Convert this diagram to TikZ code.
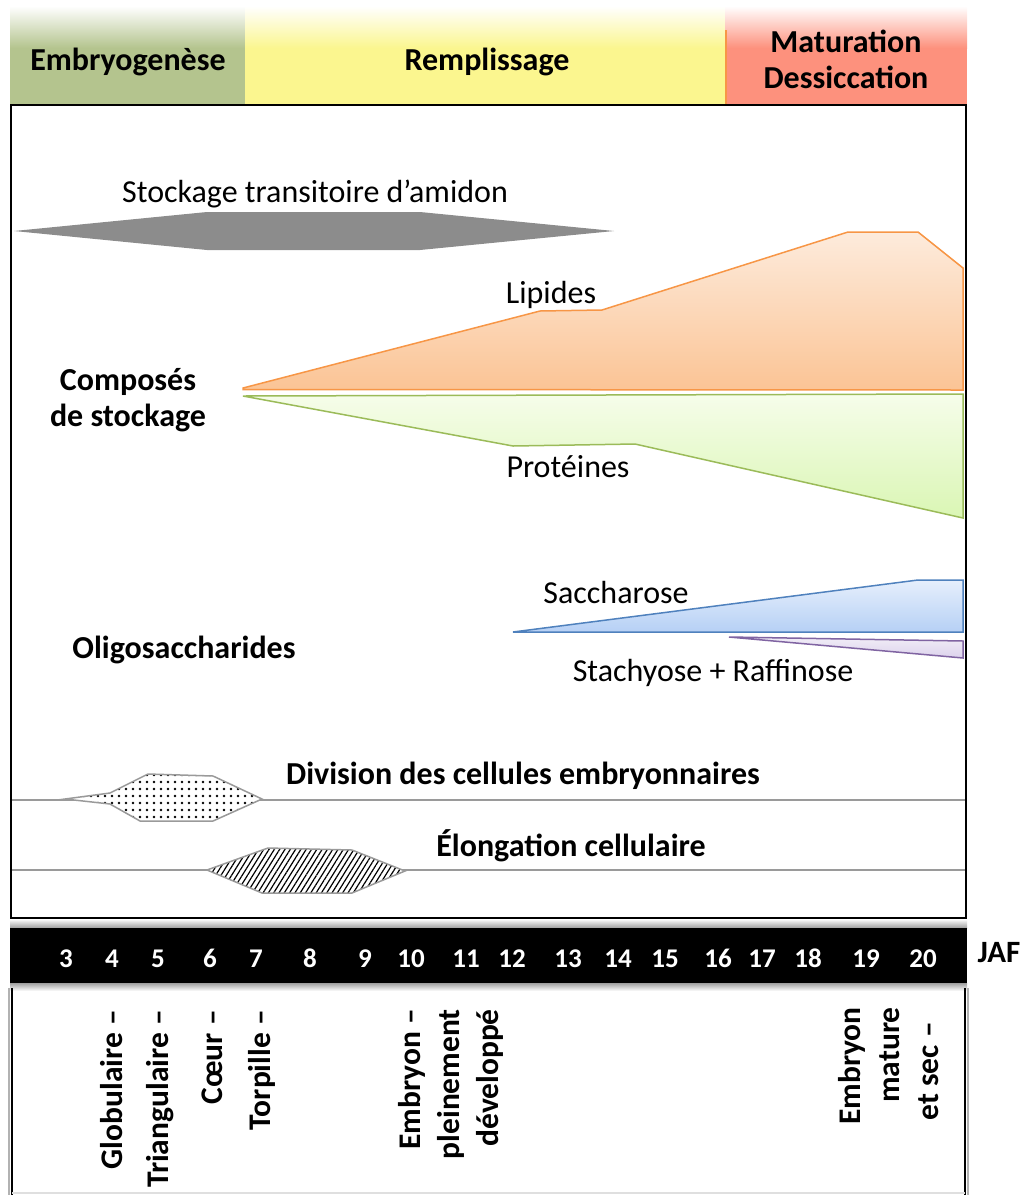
\documentclass[tikz,border=0pt]{standalone}
\usepackage{fontspec}
\setmainfont{Carlito}
\usetikzlibrary{patterns.meta}
\definecolor{hgreen}{HTML}{B4C48E}
\definecolor{hyellow}{HTML}{FBF68F}
\definecolor{hred}{HTML}{FD917D}
\definecolor{horange}{HTML}{F79646}
\definecolor{starch}{HTML}{8C8C8C}
\definecolor{lipstroke}{HTML}{F79646}
\definecolor{liptop}{HTML}{FDEBDC}
\definecolor{lipbot}{HTML}{FBC495}
\definecolor{protstroke}{HTML}{9BBB59}
\definecolor{prottop}{HTML}{F6FDEA}
\definecolor{protbot}{HTML}{DAF6B4}
\definecolor{sacstroke}{HTML}{4F81BD}
\definecolor{sactop}{HTML}{E6EFFC}
\definecolor{sacbot}{HTML}{B6D0F5}
\definecolor{stastroke}{HTML}{8064A2}
\definecolor{statop}{HTML}{F1EDF7}
\definecolor{stabot}{HTML}{DCD2EC}
\definecolor{shapegray}{HTML}{9A9A9A}
\tikzset{
  lbl/.style={font=\fontsize{32}{36}\selectfont, inner sep=0pt, yshift=-3pt},
  blbl/.style={font=\fontsize{32}{36}\selectfont\bfseries, inner sep=0pt, align=center, yshift=-3pt},
  numlbl/.style={font=\fontsize{27}{30}\selectfont\bfseries, text=white, inner sep=0pt, anchor=base},
  vlbl/.style={font=\fontsize{31.5}{39}\selectfont\bfseries, rotate=90, inner sep=0pt, align=right, anchor=east},
  cellline/.style={draw=shapegray, line width=1.5pt},
}
\begin{document}
\begin{tikzpicture}[x=1pt,y=-1pt]
\useasboundingbox (0,0) rectangle (1026,1195);
% header bands
\fill[top color=white, bottom color=hgreen] (10,6) rectangle (245,48);
\fill[hgreen] (10,47.5) rectangle (245,105);
\fill[top color=white, bottom color=hyellow] (245,6) rectangle (725,48);
\fill[hyellow] (245,47.5) rectangle (725,105);
\fill[top color=white, bottom color=hred] (725,6) rectangle (967,48);
\fill[hred] (725,47.5) rectangle (967,105);
\draw[horange, line width=2pt] (726,30) -- (726,105);
\node[blbl] (hdrE) at (128,59) {Embryogenèse};
\node[blbl] (hdrR) at (487,59) {Remplissage};
\node[blbl] (hdrM) at (846,56) {Maturation\\Dessiccation};
% starch
\fill[starch] (14,231) -- (207,212) -- (420,212) -- (614,231) -- (420,250) -- (207,250) -- cycle;
\node[lbl] (starchlbl) at (315,191) {Stockage transitoire d’amidon};
% lipids
\draw[lipstroke, line width=1.5pt, top color=liptop, bottom color=lipbot]
  (243,388) -- (540,311) -- (602,310) -- (848,232) -- (918,232) -- (963,268) -- (963,390) -- (243,389.5) -- cycle;
\node[lbl] (liplbl) at (551,292) {Lipides};
% proteins
\draw[protstroke, line width=1.5pt, top color=prottop, bottom color=protbot]
  (243,396) -- (963,394) -- (963,518) -- (635,444) -- (513,446) -- cycle;
\node[lbl] (protlbl) at (568,464) {Protéines};
\node[blbl] (compose) at (128,397) {Composés\\de stockage};
% oligosaccharides
\draw[sacstroke, line width=1.5pt, top color=sactop, bottom color=sacbot]
  (513,632) -- (918,580) -- (963,580) -- (963,632) -- cycle;
\node[lbl] (saclbl) at (616,589) {Saccharose};
\draw[stastroke, line width=1.5pt, top color=statop, bottom color=stabot]
  (729,637) -- (963,641) -- (963,658) -- cycle;
\node[lbl] (stalbl) at (713,670) {Stachyose + Raffinose};
\node[blbl] (oligo) at (184,647) {Oligosaccharides};
% division
\draw[cellline] (10,800) -- (965,800);
\fill[white] (65,799) -- (110,793) -- (148,774) -- (213,776) -- (262,799) -- (213,821) -- (140,821) -- (110,804) -- cycle;
\draw[cellline, pattern={Dots[distance=7pt, radius=1.4pt]}]
  (65,799) -- (110,793) -- (148,774) -- (213,776) -- (262,799) -- (213,821) -- (140,821) -- (110,804) -- cycle;
\node[blbl] (divlbl) at (523,773) {Division des cellules embryonnaires};
% elongation
\draw[cellline] (10,870) -- (965,870);
\fill[white] (207,870) -- (268,848) -- (352,850) -- (405,871) -- (352,893) -- (262,893) -- cycle;
\draw[cellline, pattern={Lines[angle=58, distance=4.5pt, line width=1.2pt]}]
  (207,870) -- (268,848) -- (352,850) -- (405,871) -- (352,893) -- (262,893) -- cycle;
\node[blbl] (elonglbl) at (571,843) {Élongation cellulaire};
% main box
\draw[black, line width=2pt] (10.5,105) rectangle (965.5,917.5);
% timeline bar
\fill[top color=white, bottom color=gray!75] (10,919) rectangle (967,928);
\fill[black] (10,927.5) rectangle (967,983);
\fill[top color=gray!75, bottom color=white] (10,983) rectangle (967,991);
\foreach \n/\x in {3/66,4/112,5/158,6/210,7/256,8/310,9/365,10/411,11/466,12/512,13/568,14/618,15/665,16/718,17/762,18/808,19/866,20/923}
  \node[numlbl] (d\n) at (\x,967) {\n};
\node[font=\fontsize{31}{34}\selectfont\bfseries, inner sep=0pt] (jaf) at (999,953) {JAF};
% bottom box
\draw[gray!60, line width=2pt] (9,988) -- (9,1195);
\draw[black, line width=2pt] (12,988) -- (12,1195);
\draw[black, line width=2pt] (965,988) -- (965,1195);
\draw[gray!60, line width=2pt] (968,988) -- (968,1195);
\draw[gray!25, line width=2pt] (12,1193) -- (965,1193);
% stage labels
\node[vlbl] (globu) at (112,1010) {Globulaire –};
\node[vlbl] (triang) at (160,1010) {Triangulaire –};
\node[vlbl] (coeur) at (212,1010) {Cœur –};
\node[vlbl] (torp) at (262,1010) {Torpille –};
\node[vlbl] (embdev) at (451,1009) {Embryon –\\pleinement\\développé};
\node[vlbl] (embsec) at (889,1007) {Embryon\\mature\\et sec –\hspace*{15pt}};
\end{tikzpicture}
\end{document}
